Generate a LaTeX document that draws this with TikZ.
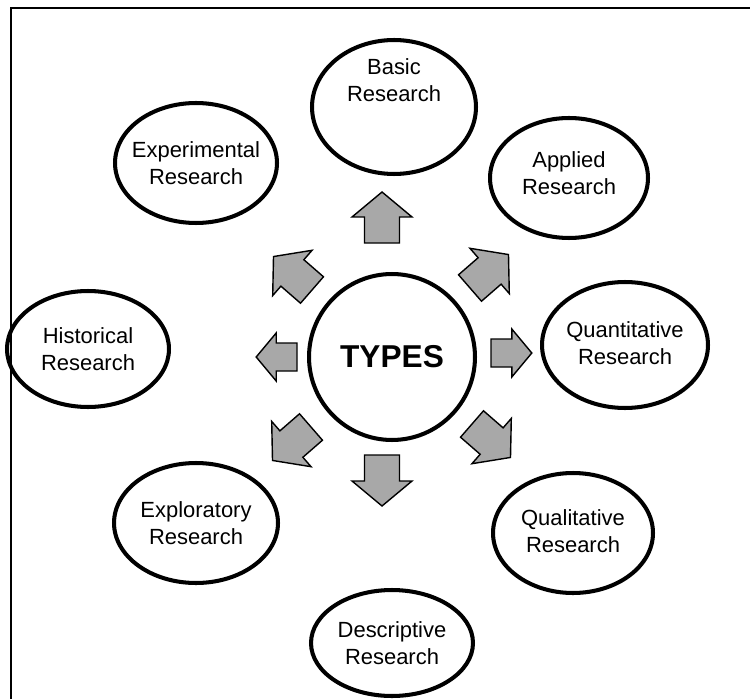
\documentclass[tikz,border=0pt]{standalone}
\usepackage{fontspec}
\setmainfont{Liberation Sans}
\usetikzlibrary{shapes.geometric}
\definecolor{arrowgray}{HTML}{A8A8A8}
\tikzset{
	typeoval/.style={ellipse, draw, line width=2.3pt, inner sep=0pt},
	typetext/.style={align=center, font=\fontsize{12.5}{15.3}\selectfont},
	hub/.style={circle, draw, line width=2.3pt, inner sep=0pt, minimum size=3.32cm,
		font=\bfseries\fontsize{18}{20}\selectfont},
	arrowface/.style={fill=arrowgray, draw=black, line width=0.8pt, line join=miter},
	pics/outarrow/.style={code={
		\draw[arrowface] (0,-17.5) -- (26,-17.5) -- (26,-30) -- (51,0) -- (26,30) -- (26,17.5) -- (0,17.5) -- cycle;
	}}
}

\begin{document}
\begin{tikzpicture}[x=0.02cm, y=0.02cm]
			%%%%% START %%%%%
			\clip (0,0) rectangle (750,-699);
			\fill[white] (0,0) rectangle (750,-699);
			
			% frame
			\draw[line width=1.7pt] (11,-8) rectangle (770,-720);
			
			% centre
			\node[hub] (types) at (392,-357) {TYPES};
			
			% ovals
			\node[typeoval, minimum width=3.28cm, minimum height=2.68cm] (basic) at (394,-107) {};
			\node[typeoval, minimum width=3.16cm, minimum height=2.40cm] (applied) at (569,-178) {};
			\node[typeoval, minimum width=3.32cm, minimum height=2.52cm] (quanti) at (625,-345) {};
			\node[typeoval, minimum width=3.20cm, minimum height=2.40cm] (quali) at (573,-533) {};
			\node[typeoval, minimum width=3.24cm, minimum height=2.12cm] (descr) at (392,-643) {};
			\node[typeoval, minimum width=3.28cm, minimum height=2.40cm] (explo) at (196,-523) {};
			\node[typeoval, minimum width=3.24cm, minimum height=2.32cm] (histo) at (88,-349) {};
			\node[typeoval, minimum width=3.24cm, minimum height=2.40cm] (exper) at (196,-163) {};
			
			\node[typetext] (basictxt) at (394,-80) {Basic\\Research};
			\node[typetext] (appliedtxt) at (569,-173) {Applied\\Research};
			\node[typetext] (quantitxt) at (625,-343) {Quantitative\\Research};
			\node[typetext] (qualitxt) at (573,-531) {Qualitative\\Research};
			\node[typetext] (descrtxt) at (392,-643) {Descriptive\\Research};
			\node[typetext] (explotxt) at (196,-523) {Exploratory\\Research};
			\node[typetext] (histotxt) at (88,-349) {Historical\\Research};
			\node[typetext] (expertxt) at (196,-163) {Experimental\\Research};
			
			% arrows
			\pic[rotate=90] at (382,-243) {outarrow};
			\pic[rotate=-90] at (382,-455) {outarrow};
			\pic[rotate=139] at (312,-290) {outarrow};
			\pic[rotate=41] at (470,-288) {outarrow};
			\pic[rotate=221] at (311,-427) {outarrow};
			\pic[rotate=-41] at (472,-424) {outarrow};
			\pic[scale=0.8] at (491,-353) {outarrow};
			\pic[rotate=180, scale=0.8] at (297,-357) {outarrow};
			
			%%%%% END %%%%%
\end{tikzpicture}
\end{document}
